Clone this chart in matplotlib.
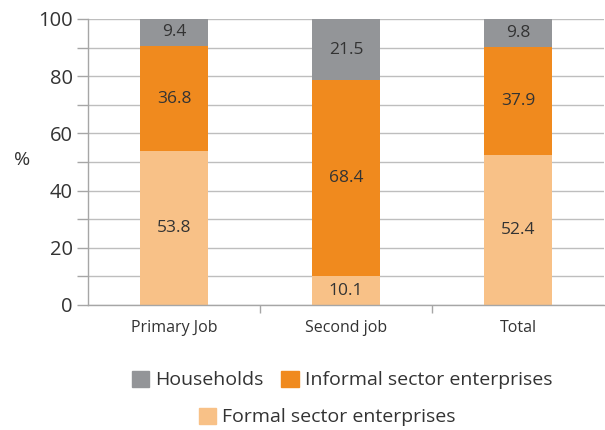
import matplotlib.pyplot as plt
import matplotlib.patches as mpatches
import numpy as np

categories = ["Primary Job", "Second job", "Total"]
formal = [53.8, 10.1, 52.4]
informal = [36.8, 68.4, 37.9]
households = [9.4, 21.5, 9.8]

series_names = ["Households", "Informal sector enterprises", "Formal sector enterprises"]
c_house = "#939598"
c_inf = "#F08A1E"
c_form = "#F8C187"
text_col = "#333333"
grid_col = "#BEBEBE"

plt.rcParams['font.family'] = ['Open Sans', 'DejaVu Sans']

fig = plt.figure(figsize=(6.05, 4.30), dpi=100)
ax = fig.add_axes([88/605, 1-305/430, (604-88)/605, (305-19)/430])

x = np.arange(len(categories))
w = 0.395
formal_a = np.array(formal)
inf_a = np.array(informal)
house_a = np.array(households)

b1 = ax.bar(x, formal_a, w, color=c_form, zorder=2)
b2 = ax.bar(x, inf_a, w, bottom=formal_a, color=c_inf, zorder=2)
b3 = ax.bar(x, house_a, w, bottom=formal_a + inf_a, color=c_house, zorder=2)

for bars, vals, bottoms in [(b1, formal_a, np.zeros(3)), (b2, inf_a, formal_a), (b3, house_a, formal_a + inf_a)]:
    for xi, v, b in zip(x, vals, bottoms):
        ax.text(xi, b + v / 2, f"{v:.1f}", ha="center", va="center",
                fontsize=12.5, color=text_col, zorder=3)

ax.set_xlim(-0.5, 2.5)
ax.set_ylim(0, 100)
ax.set_yticks(np.arange(0, 101, 20))
ax.set_yticks(np.arange(10, 100, 20), minor=True)
ax.tick_params(axis='y', which='both', length=8, color="#A6A6A6", width=1,
               labelsize=14.5, labelcolor=text_col, pad=3)
ax.yaxis.grid(True, which='both', color=grid_col, linewidth=1, zorder=0)
ax.set_axisbelow(True)

ax.set_xticks([0.5, 1.5], minor=True)
ax.set_xticks(x)
ax.set_xticklabels(categories)
ax.tick_params(axis='x', which='major', length=0, labelsize=11.5, labelcolor=text_col, pad=11)
ax.tick_params(axis='x', which='minor', length=6, color="#A6A6A6", width=1)

for s in ["top", "right"]:
    ax.spines[s].set_visible(False)
for s in ["left", "bottom"]:
    ax.spines[s].set_color("#A6A6A6")
    ax.spines[s].set_linewidth(1)

fig.text(22/605, 1-160/430, "%", fontsize=14, color=text_col, ha="center", va="center")

h_house = mpatches.Patch(color=c_house, label=series_names[0])
h_inf = mpatches.Patch(color=c_inf, label=series_names[1])
h_form = mpatches.Patch(color=c_form, label=series_names[2])

leg1 = fig.legend(handles=[h_house, h_inf], loc="center", ncol=2,
                  bbox_to_anchor=(342/605, 1-380/430), frameon=False,
                  fontsize=14, handlelength=0.9, handleheight=0.9,
                  handletextpad=0.3, columnspacing=0.9, labelcolor=text_col)
leg2 = fig.legend(handles=[h_form], loc="center",
                  bbox_to_anchor=(327/605, 1-417/430), frameon=False,
                  fontsize=14, handlelength=0.9, handleheight=0.9,
                  handletextpad=0.3, labelcolor=text_col)

fig.savefig("out.png", dpi=100)
